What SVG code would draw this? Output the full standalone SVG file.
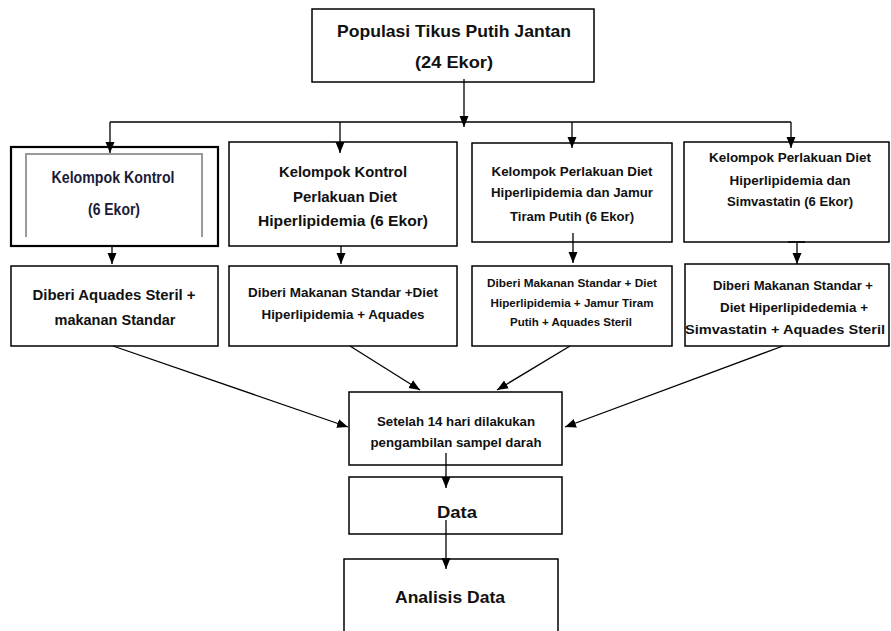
<svg xmlns="http://www.w3.org/2000/svg" width="891" height="631" viewBox="0 0 891 631">
<defs>
<marker id="ah" markerUnits="userSpaceOnUse" markerWidth="12" markerHeight="12" viewBox="0 0 12 12" refX="11" refY="6" orient="auto">
<path d="M0,1.5 L11,6 L0,10.5 Z" fill="#000"/>
</marker>
<style>
.box{fill:#fff;stroke:#000;stroke-width:1.5}
.t{font-family:"Liberation Sans",Arial,sans-serif;font-weight:bold;fill:#111;text-anchor:middle}
.c{fill:none;stroke:#000;stroke-width:1.3}
</style>
</defs>
<rect width="891" height="631" fill="#fff"/>

<g id="populasi">
<rect class="box" x="312" y="9" width="282" height="73"/>
<text class="t" x="454" y="37" font-size="17" textLength="234" lengthAdjust="spacingAndGlyphs">Populasi Tikus Putih Jantan</text>
<text class="t" x="454" y="68" font-size="17" textLength="78" lengthAdjust="spacingAndGlyphs">(24 Ekor)</text>
</g>

<g id="kontrol">
<rect x="11" y="147" width="207" height="99" fill="#fff" stroke="#000" stroke-width="2.2"/>
<path d="M26,237 V154 H202 V237" fill="none" stroke="#9a9a9a" stroke-width="2"/>
<text class="t" x="113" y="183" font-size="16" textLength="123" lengthAdjust="spacingAndGlyphs" style="fill:#1b1b38">Kelompok Kontrol</text>
<text class="t" x="114" y="215" font-size="16" textLength="52" lengthAdjust="spacingAndGlyphs" style="fill:#1b1b38">(6 Ekor)</text>
</g>

<g id="kontrol-hiper">
<rect class="box" x="229" y="142" width="228" height="104"/>
<text class="t" x="343" y="177" font-size="14" textLength="128" lengthAdjust="spacingAndGlyphs">Kelompok Kontrol</text>
<text class="t" x="345" y="202" font-size="14" textLength="104" lengthAdjust="spacingAndGlyphs">Perlakuan Diet</text>
<text class="t" x="343" y="226" font-size="14" textLength="170" lengthAdjust="spacingAndGlyphs">Hiperlipidemia   (6 Ekor)</text>
</g>

<g id="perlakuan-jamur">
<rect class="box" x="472" y="143" width="200" height="99"/>
<text class="t" x="572" y="176" font-size="12" textLength="161" lengthAdjust="spacingAndGlyphs">Kelompok Perlakuan Diet</text>
<text class="t" x="572" y="197" font-size="12" textLength="162" lengthAdjust="spacingAndGlyphs">Hiperlipidemia dan Jamur</text>
<text class="t" x="572" y="221" font-size="12" textLength="124" lengthAdjust="spacingAndGlyphs">Tiram Putih (6 Ekor)</text>
</g>

<g id="perlakuan-simvastatin">
<rect class="box" x="684" y="142" width="205" height="100"/>
<text class="t" x="790" y="162" font-size="12" textLength="162" lengthAdjust="spacingAndGlyphs">Kelompok Perlakuan Diet</text>
<text class="t" x="790" y="185" font-size="12" textLength="121" lengthAdjust="spacingAndGlyphs">Hiperlipidemia dan</text>
<text class="t" x="790" y="206" font-size="12" textLength="126" lengthAdjust="spacingAndGlyphs">Simvastatin (6 Ekor)</text>
</g>

<g id="aquades">
<rect class="box" x="11" y="266" width="207" height="80"/>
<text class="t" x="114" y="300" font-size="15" textLength="163" lengthAdjust="spacingAndGlyphs">Diberi Aquades Steril +</text>
<text class="t" x="115" y="325" font-size="15" textLength="121" lengthAdjust="spacingAndGlyphs">makanan Standar</text>
</g>

<g id="makanan-hiper">
<rect class="box" x="229" y="266" width="228" height="80"/>
<text class="t" x="343" y="297" font-size="13" textLength="190" lengthAdjust="spacingAndGlyphs">Diberi Makanan Standar +Diet</text>
<text class="t" x="343" y="319" font-size="13" textLength="163" lengthAdjust="spacingAndGlyphs">Hiperlipidemia + Aquades</text>
</g>

<g id="makanan-jamur">
<rect class="box" x="472" y="266" width="200" height="80"/>
<text class="t" x="572" y="287" font-size="11.5" textLength="170" lengthAdjust="spacingAndGlyphs">Diberi Makanan Standar + Diet</text>
<text class="t" x="572" y="307" font-size="11.5" textLength="163" lengthAdjust="spacingAndGlyphs">Hiperlipidemia + Jamur Tiram</text>
<text class="t" x="571" y="326" font-size="11.5" textLength="122" lengthAdjust="spacingAndGlyphs">Putih + Aquades Steril</text>
</g>

<g id="makanan-simvastatin">
<rect class="box" x="685" y="264" width="204" height="82"/>
<text class="t" x="793" y="290" font-size="13" textLength="160" lengthAdjust="spacingAndGlyphs">Diberi Makanan Standar +</text>
<text class="t" x="794" y="312" font-size="13" textLength="148" lengthAdjust="spacingAndGlyphs">Diet Hiperlipidedemia +</text>
<text class="t" x="785" y="334" font-size="13" textLength="200" lengthAdjust="spacingAndGlyphs">Simvastatin + Aquades Steril</text>
</g>

<g id="sampel">
<rect class="box" x="349" y="392" width="213" height="73"/>
<text class="t" x="456" y="426" font-size="12.5" textLength="158" lengthAdjust="spacingAndGlyphs">Setelah 14 hari dilakukan</text>
<text class="t" x="456" y="447" font-size="12.5" textLength="171" lengthAdjust="spacingAndGlyphs">pengambilan sampel darah</text>
</g>

<g id="data">
<rect class="box" x="349" y="477" width="213" height="57"/>
<text class="t" x="457" y="518" font-size="17" textLength="40" lengthAdjust="spacingAndGlyphs">Data</text>
</g>

<g id="analisis">
<rect class="box" x="344" y="559" width="214" height="80"/>
<text class="t" x="450" y="603" font-size="17" textLength="110" lengthAdjust="spacingAndGlyphs">Analisis Data</text>
</g>

<g id="connectors">
<path class="c" d="M464,79 V127" marker-end="url(#ah)"/>
<path class="c" d="M110,122 H791"/>
<path class="c" d="M110,122 V153" marker-end="url(#ah)"/>
<path class="c" d="M340,122 V153" marker-end="url(#ah)"/>
<path class="c" d="M572,122 V148" marker-end="url(#ah)"/>
<path class="c" d="M791,122 V148" marker-end="url(#ah)"/>
<path class="c" d="M112,246 V264" marker-end="url(#ah)"/>
<path class="c" d="M341,246 V264" marker-end="url(#ah)"/>
<path class="c" d="M573,233 V263" marker-end="url(#ah)"/>
<path class="c" d="M788,242 H805 M797,242 V264" marker-end="url(#ah)"/>
<path class="c" d="M113,346 L348,427" marker-end="url(#ah)"/>
<path class="c" d="M350,346 L420,390" marker-end="url(#ah)"/>
<path class="c" d="M570,346 L497,390" marker-end="url(#ah)"/>
<path class="c" d="M783,346 L565,427" marker-end="url(#ah)"/>
<path class="c" d="M446,453 V488" marker-end="url(#ah)"/>
<path class="c" d="M446,520 V569" marker-end="url(#ah)"/>
</g>
</svg>
